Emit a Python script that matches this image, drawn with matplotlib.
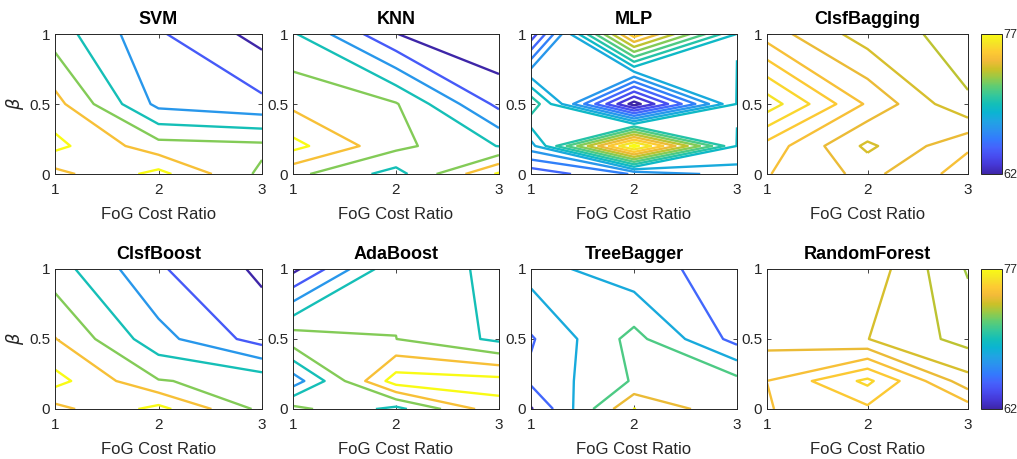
import numpy as np
import matplotlib.pyplot as plt
from matplotlib.colors import LinearSegmentedColormap, Normalize
from matplotlib.cm import ScalarMappable

plt.rcParams['font.family'] = ['Liberation Sans', 'DejaVu Sans']
plt.rcParams['mathtext.fontset'] = 'dejavusans'

# parula, sampled every 16 entries of the 256-colour table
parula = LinearSegmentedColormap.from_list('parula', [
    (0.2422, 0.1504, 0.6603), (0.2704, 0.2138, 0.8346), (0.2813, 0.2985, 0.9397),
    (0.2710, 0.3860, 0.9898), (0.2006, 0.4803, 0.9906), (0.1716, 0.5655, 0.9393),
    (0.1288, 0.6408, 0.8910), (0.0433, 0.7039, 0.8242), (0.0770, 0.7468, 0.7224),
    (0.2061, 0.7808, 0.6065), (0.3671, 0.8021, 0.4563), (0.5886, 0.7913, 0.2833),
    (0.7945, 0.7554, 0.1570), (0.9523, 0.7284, 0.2237), (0.9938, 0.7974, 0.1974),
    (0.9601, 0.8963, 0.1507), (0.9769, 0.9839, 0.0805)])
norm = Normalize(62, 77)

cost_ratio = [1, 2, 3]
beta = [0, 0.2, 0.5, 1]

# accuracy (%) per classifier: one row per beta, one column per cost ratio
svm = [[73.7, 77.8, 71.4],
       [77.7, 73.0, 72.6],
       [75.4, 66.3, 65.1],
       [70.8, 64.8, 61.1]]
knn = [[72.7, 68.5, 77.4],
       [77.8, 72.7, 69.4],
       [73.9, 72.2, 63.8],
       [69.8, 62.05, 59.6]]
mlp = [[64.3, 66.1, 67.5],
       [67.6, 77.4, 68.96],
       [70.8, 61.5, 69.05],
       [63.3, 75.6, 68.97]]
clsf_bagging = [[74.53, 73.85, 74.74],
                [74.81, 73.39, 74.43],
                [76.29, 74.42, 73.05],
                [74.25, 73.25, 72.8]]
clsf_boost = [[73.7, 77.8, 71.35],
              [77.9, 72.15, 71.1],
              [74.6, 67.9, 63.4],
              [70.65, 64.8, 61.5]]
ada_boost = [[72.8, 68.7, 76.25],
             [65.6, 78.3, 77.84],
             [73.57, 72.02, 68.94],
             [61.3, 71.6, 68.68]]
tree_bagger = [[61.7, 77.1, 71.5],
               [65.65, 71.3, 71.95],
               [64.7, 72.04, 63.9],
               [69.26, 66.05, 63.78]]
random_forest = [[74.47, 74.9, 74.77],
                 [74.502, 75.62, 73.68],
                 [73.81, 73.51, 72.81],
                 [73.7, 73.82, 72.45]]

levels_coarse = [62, 64.5, 67, 69.5, 72, 74.5, 77]
levels_mlp = [62, 63, 64, 65, 66, 67, 68, 69, 70, 71, 72, 73, 74, 75, 76, 77]
levels_fine = [72.5, 73, 73.5, 74, 74.5, 75, 75.5, 76]
levels_tree = [62, 65, 68, 71, 74, 77]

models = ['SVM', 'KNN', 'MLP', 'ClsfBagging',
          'ClsfBoost', 'AdaBoost', 'TreeBagger', 'RandomForest']
grids = [svm, knn, mlp, clsf_bagging, clsf_boost, ada_boost, tree_bagger, random_forest]
levels = [levels_coarse, levels_coarse, levels_mlp, levels_fine,
          levels_coarse, levels_coarse, levels_tree, levels_fine]

W, H = 1017, 459
fig = plt.figure(figsize=(W / 100, H / 100), dpi=100)

lefts = [55, 293, 531, 767]
widths = [207, 206, 206, 201]
tops = [34, 269]
ax_h = 140
ink = '#262626'

X, Y = np.meshgrid(cost_ratio, beta)
for k, (name, z, lv) in enumerate(zip(models, grids, levels)):
    r, c = divmod(k, 4)
    ax = fig.add_axes([lefts[c] / W, 1 - (tops[r] + ax_h) / H, widths[c] / W, ax_h / H])
    ax.contour(X, Y, np.array(z), levels=lv, cmap=parula, norm=norm, linewidths=1.7)
    ax.set_xlim(1, 3)
    ax.set_ylim(0, 1)
    ax.set_xticks([1, 2, 3])
    ax.set_yticks([0, 0.5, 1])
    ax.set_yticklabels(['0', '0.5', '1'])
    ax.tick_params(direction='in', top=True, right=True, length=3, width=0.6,
                   labelsize=11, colors=ink)
    ax.tick_params(axis='x', pad=6.5)
    ax.tick_params(axis='y', pad=3.5)
    for s in ax.spines.values():
        s.set_color(ink)
        s.set_linewidth(0.7)
    ax.set_title(name, fontsize=13, fontweight='bold', pad=7)
    ax.set_xlabel('FoG Cost Ratio', fontsize=12, color=ink, labelpad=7.5)
    if c == 0:
        ax.set_ylabel(r'$\beta$', fontsize=13, color=ink, labelpad=2)

    if c == 3:
        cax = fig.add_axes([981 / W, 1 - (tops[r] + ax_h) / H, 21 / W, ax_h / H])
        cb = fig.colorbar(ScalarMappable(norm=norm, cmap=parula), cax=cax, ticks=[62, 77])
        cb.outline.set_edgecolor(ink)
        cb.outline.set_linewidth(0.7)
        cax.tick_params(length=0, labelsize=9, pad=1, colors=ink)

fig.savefig('out.png', dpi=100)
